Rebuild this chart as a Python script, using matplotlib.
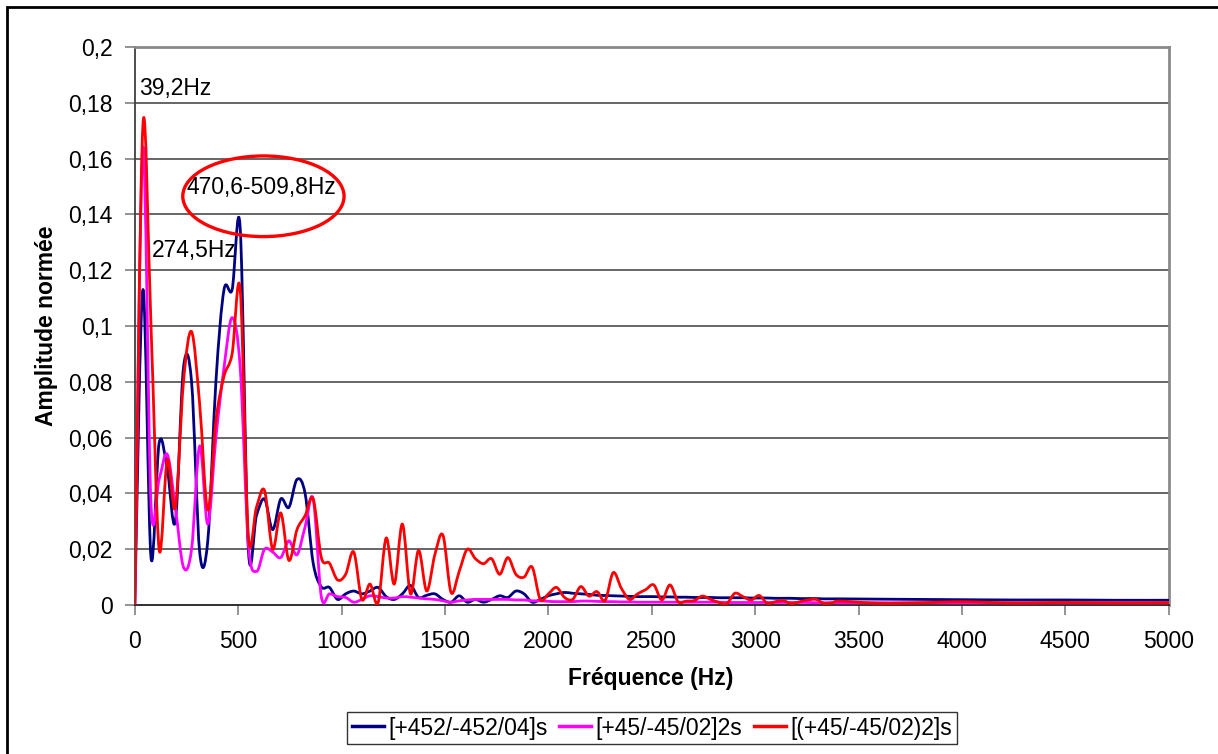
import matplotlib
matplotlib.use("Agg")
import matplotlib.pyplot as plt
from matplotlib.path import Path
from matplotlib.patches import PathPatch, Ellipse, Rectangle
from matplotlib.lines import Line2D

plt.rcParams['font.family'] = ['Liberation Sans', 'DejaVu Sans']
FS = 16.5

# Spectrum bins (Hz)
freq_hz = [
    0.0, 39.2, 78.4, 117.6, 156.9, 196.1, 235.3, 274.5, 313.7, 352.9,
    392.2, 431.4, 470.6, 509.8, 549.0, 588.2, 627.5, 666.7, 705.9, 745.1,
    784.3, 823.5, 862.7, 902.0, 941.2, 980.4, 1019.6, 1058.8, 1098.0, 1137.3,
    1176.5, 1215.7, 1254.9, 1294.1, 1333.3, 1372.5, 1411.8, 1451.0, 1490.2, 1529.4,
    1568.6, 1607.8, 1647.1, 1686.3, 1725.5, 1764.7, 1803.9, 1843.1, 1882.4, 1921.6,
    1960.8, 2000.0, 2039.2, 2078.4, 2117.6, 2156.9, 2196.1, 2235.3, 2274.5, 2313.7,
    2352.9, 2392.2, 2431.4, 2470.6, 2509.8, 2549.0, 2588.2, 2627.5, 2666.7, 2705.9,
    2745.1, 2784.3, 2823.5, 2862.7, 2902.0, 2941.2, 2980.4, 3019.6, 3058.8, 3098.0,
    3137.3, 3176.5, 3215.7, 3254.9, 3294.1, 3333.3, 3372.5, 3411.8,
    3600.0, 3800.0, 4000.0, 4250.0, 4500.0, 4750.0, 5000.0,
]

amp_452 = [
    0.0, 0.113, 0.017, 0.058, 0.049, 0.030, 0.085, 0.080, 0.019, 0.023,
    0.080, 0.113, 0.113, 0.135, 0.020, 0.032, 0.038, 0.027, 0.038, 0.035,
    0.045, 0.040, 0.015, 0.0065, 0.0063, 0.002, 0.004, 0.005, 0.004, 0.005,
    0.0063, 0.003, 0.002, 0.004, 0.007, 0.0027, 0.0035, 0.004, 0.002, 0.001,
    0.0033, 0.001, 0.002, 0.001, 0.002, 0.0033, 0.0027, 0.005, 0.004, 0.001,
    0.002, 0.0033, 0.004, 0.0045, 0.0042, 0.004, 0.0038, 0.0035, 0.0034, 0.0033,
    0.0032, 0.0031, 0.003, 0.003, 0.003, 0.0029, 0.0029, 0.0028, 0.0028, 0.0027,
    0.0027, 0.0027, 0.0026, 0.0026, 0.0026, 0.0026, 0.0025, 0.0025, 0.0025, 0.0024,
    0.0024, 0.0024, 0.0023, 0.0023, 0.0023, 0.0022, 0.0022, 0.0022,
    0.0021, 0.0020, 0.0019, 0.0018, 0.0018, 0.0017, 0.0017,
]

amp_45_2s = [
    0.0, 0.164, 0.036, 0.045, 0.054, 0.035, 0.0136, 0.020, 0.057, 0.029,
    0.060, 0.085, 0.103, 0.085, 0.022, 0.012, 0.020, 0.019, 0.017, 0.023,
    0.018, 0.028, 0.038, 0.003, 0.004, 0.003, 0.0027, 0.001, 0.002, 0.0033,
    0.003, 0.0025, 0.0025, 0.003, 0.0028, 0.0025, 0.0022, 0.002, 0.0015, 0.001,
    0.0015, 0.0018, 0.002, 0.002, 0.002, 0.002, 0.002, 0.0018, 0.0018, 0.0015,
    0.0015, 0.0013, 0.0012, 0.0012, 0.0012, 0.0014, 0.0014, 0.0013, 0.0012, 0.0012,
    0.0011, 0.0011, 0.001, 0.001, 0.001, 0.001, 0.001, 0.001, 0.001, 0.001,
    0.001, 0.001, 0.001, 0.0009, 0.0009, 0.0009, 0.0009, 0.0009, 0.0009, 0.0009,
    0.0009, 0.0009, 0.0009, 0.0009, 0.0008, 0.0008, 0.0008, 0.0008,
    0.0008, 0.0008, 0.0008, 0.0008, 0.0008, 0.0008, 0.0008,
]

amp_45_s = [
    0.0, 0.172, 0.100, 0.020, 0.052, 0.035, 0.080, 0.098, 0.072, 0.034,
    0.066, 0.082, 0.090, 0.113, 0.025, 0.035, 0.041, 0.020, 0.033, 0.016,
    0.027, 0.032, 0.038, 0.017, 0.015, 0.009, 0.011, 0.019, 0.002, 0.0075,
    0.0008, 0.024, 0.0075, 0.029, 0.004, 0.0196, 0.005, 0.018, 0.025, 0.0045,
    0.012, 0.020, 0.0166, 0.0148, 0.0166, 0.011, 0.017, 0.011, 0.010, 0.0136,
    0.002, 0.004, 0.0063, 0.0027, 0.002, 0.0066, 0.0032, 0.0048, 0.0016, 0.0116,
    0.006, 0.002, 0.004, 0.0055, 0.0072, 0.0018, 0.0072, 0.0012, 0.0014, 0.0016,
    0.0032, 0.002, 0.001, 0.0005, 0.0042, 0.003, 0.0018, 0.0034, 0.0006, 0.0012,
    0.0015, 0.0005, 0.0012, 0.0018, 0.002, 0.0006, 0.0008, 0.0014,
    0.0006, 0.0008, 0.0012, 0.0007, 0.0009, 0.0007, 0.0008,
]

series_labels = ['[+452/-452/04]s', '[+45/-45/02]2s', '[(+45/-45/02)2]s']
series_colors = ['#000080', '#FF00FF', '#FF0000']

x_ticks = [0, 500, 1000, 1500, 2000, 2500, 3000, 3500, 4000, 4500, 5000]
y_ticks = [0, 0.02, 0.04, 0.06, 0.08, 0.1, 0.12, 0.14, 0.16, 0.18, 0.2]
y_tick_labels = ['0', '0,02', '0,04', '0,06', '0,08', '0,1', '0,12', '0,14',
                 '0,16', '0,18', '0,2']

peak_notes = [('39,2Hz', 20, 0.185), ('274,5Hz', 83, 0.127),
              ('470,6-509,8Hz', 248, 0.1495)]


def smooth_path(xs, ys):
    """Bezier path through the points (Catmull-Rom style smoothing)."""
    pts = list(zip(xs, ys))
    n = len(pts)
    verts = [pts[0]]
    codes = [Path.MOVETO]
    for i in range(n - 1):
        p0 = pts[i - 1] if i > 0 else pts[i]
        p1 = pts[i]
        p2 = pts[i + 1]
        p3 = pts[i + 2] if i + 2 < n else pts[i + 1]
        c1 = (p1[0] + (p2[0] - p0[0]) / 6.0, p1[1] + (p2[1] - p0[1]) / 6.0)
        c2 = (p2[0] - (p3[0] - p1[0]) / 6.0, p2[1] - (p3[1] - p1[1]) / 6.0)
        verts += [c1, c2, p2]
        codes += [Path.CURVE4] * 3
    return Path(verts, codes)


fig = plt.figure(figsize=(12.18, 7.54), dpi=100)
fig.patch.set_facecolor('white')

# Outer chart border
fig.patches.append(Rectangle((7 / 1218, -0.2), 1.3, 1.2 - 7 / 754,
                             transform=fig.transFigure, fill=False,
                             edgecolor='black', linewidth=2.0))

ax = fig.add_axes([134.8 / 1218, 1 - 605 / 754, (1168.7 - 134.8) / 1218,
                   (605 - 47) / 754])
ax.set_xlim(0, 5000)
ax.set_ylim(0, 0.2)

ax.set_yticks(y_ticks)
ax.set_yticklabels(y_tick_labels)
ax.set_xticks(x_ticks)
ax.set_xticklabels([str(t) for t in x_ticks])
ax.tick_params(axis='both', labelsize=FS, length=7, width=1.2,
               color='#808080', direction='out')
ax.tick_params(axis='y', pad=9)
ax.tick_params(axis='x', pad=11)

for y in y_ticks[1:-1]:
    ax.axhline(y, color='#3c3c3c', linewidth=1.1, zorder=1)

ax.spines['left'].set_color('#404040')
ax.spines['left'].set_linewidth(1.3)
ax.spines['bottom'].set_color('#202020')
ax.spines['bottom'].set_linewidth(1.3)
ax.spines['top'].set_color('#8a8a8a')
ax.spines['top'].set_linewidth(2.0)
ax.spines['right'].set_color('#8a8a8a')
ax.spines['right'].set_linewidth(2.0)

handles = []
for vals, lab, col in zip([amp_452, amp_45_2s, amp_45_s], series_labels,
                          series_colors):
    patch = PathPatch(smooth_path(freq_hz, vals), facecolor='none',
                      edgecolor=col, linewidth=2.0, zorder=3,
                      joinstyle='round', capstyle='round')
    ax.add_patch(patch)
    handles.append(Line2D([], [], color=col, linewidth=2.5, label=lab))

for txt, fx, fy in peak_notes:
    ax.text(fx, fy, txt, fontsize=FS, ha='left', va='center', zorder=5)

ax.add_patch(Ellipse((622, 0.1465), 780, 0.0289, fill=False,
                     edgecolor='#FF0000', linewidth=2.4, zorder=4))

fig.text(651 / 1218, 1 - 679 / 754, 'Fréquence (Hz)', fontsize=FS,
         fontweight='bold', ha='center', va='center')
fig.text(47 / 1218, 1 - 326 / 754, 'Amplitude normée', fontsize=FS,
         fontweight='bold', ha='center', va='center', rotation=90)

leg = fig.legend(handles=handles, loc='center', ncol=3,
                 bbox_to_anchor=(652 / 1218, 1 - 728 / 754), fontsize=FS,
                 frameon=True, fancybox=False, handlelength=1.4,
                 handletextpad=0.2, columnspacing=0.5, borderpad=0.2,
                 borderaxespad=0)
leg.get_frame().set_edgecolor('black')
leg.get_frame().set_linewidth(1.0)

fig.savefig('out.png', dpi=100, facecolor='white')
